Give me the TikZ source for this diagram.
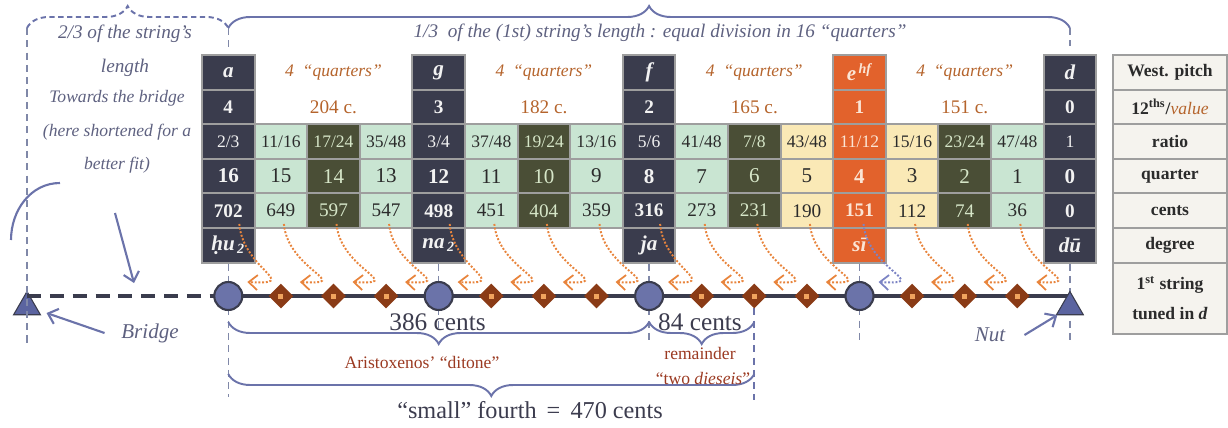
\documentclass[tikz,border=0pt,11pt]{standalone}
\usepackage{fontspec}
\setmainfont{Liberation Serif}
\usepackage{xcolor}
\usetikzlibrary{arrows.meta,shapes.geometric,positioning,calc,decorations.pathreplacing}

\definecolor{cnavy}{HTML}{3A3C4D}
\definecolor{cgreen}{HTML}{C9E5D2}
\definecolor{colive}{HTML}{4A4E36}
\definecolor{cyellow}{HTML}{FAE9B6}
\definecolor{corange}{HTML}{E2622C}
\definecolor{cgrid}{HTML}{9E9E9E}
\definecolor{ctxtlight}{HTML}{F2F2F2}
\definecolor{ctxtolive}{HTML}{D6E6C8}
\definecolor{ctxtdark}{HTML}{2B2B2B}
\definecolor{ctxtorange}{HTML}{FBE5D5}
\definecolor{cbrown}{HTML}{B5642C}
\definecolor{cslate}{HTML}{5E6180}
\definecolor{cline}{HTML}{6B73AA}
\definecolor{cguide}{HTML}{8088A8}
\definecolor{cdot}{HTML}{E8843C}
\definecolor{cblue}{HTML}{7C84C4}
\definecolor{cstring}{HTML}{3A3C4D}
\definecolor{cknot}{HTML}{6B73A9}
\definecolor{cfret}{HTML}{8A3B16}
\definecolor{cfretin}{HTML}{F0A35E}
\definecolor{crest}{HTML}{5B64A0}
\definecolor{cred}{HTML}{9B3A22}
\definecolor{ctxtcent}{HTML}{3C3C4E}
\definecolor{clegfill}{HTML}{F5F3EE}

\begin{document}
\begin{tikzpicture}[x=0.02cm,y=-0.02cm,
    cell/.style={draw=cgrid,line width=1.1pt,minimum width=1.052cm,
      minimum height=0.692cm,inner sep=0pt},
    legcell/.style={cell,fill=clegfill,minimum width=2.28cm,text=ctxtdark,font=\small\bfseries},
    note/.style={text=cslate,font=\itshape},
    guide/.style={draw=cguide,line width=0.9pt,dash pattern=on 4pt off 3pt},
    brc/.style={draw=cline,line width=1.1pt,decorate,decoration={brace,amplitude=0.44cm}},
    brcdown/.style={draw=cline,line width=1.1pt,decorate,decoration={brace,mirror,amplitude=0.44cm}},
    pointer/.style={draw=cline,line width=1.2pt,-{Straight Barb[length=5pt,width=9pt]}},
    qarrow/.style={line width=1.1pt,densely dotted,-{Straight Barb[length=5pt,width=8.5pt,line width=1pt]}},
    knot/.style={circle,fill=cknot,draw=cstring,line width=1.2pt,minimum size=0.56cm,inner sep=0pt},
    fret/.style={diamond,fill=cfret,inner sep=0pt,minimum size=0.5cm,
      path picture={\fill[cfretin] (path picture bounding box.center) +(-2.5,-2.5) rectangle +(2.5,2.5);}},
    rest/.style={regular polygon,regular polygon sides=3,fill=crest,draw=cstring,line width=0.6pt,
      minimum size=0.62cm,inner sep=0pt},
    string/.style={draw=cstring,line width=2.2pt}]
  \useasboundingbox (0,0) rectangle (1228,427);

  % degrees of the scale
  \foreach \k/\pit/\tw/\rat/\qu/\ce/\dg/\fc/\tc in {
      0/a/4/{2/3}/16/702/{\d{h}u\textsubscript{\,2}}/cnavy/ctxtlight,
      4/g/3/{3/4}/12/498/{na\textsubscript{\,2}}/cnavy/ctxtlight,
      8/f/2/{5/6}/8/316/ja/cnavy/ctxtlight,
      12/{e\textsuperscript{\,hf}}/1/{11/12}/4/151/sī/corange/ctxtorange,
      16/d/0/1/0/0/dū/cnavy/ctxtlight}{
    \pgfmathsetmacro\cx{228.3+52.6*\k}
    \node[cell,fill=\fc,text=\tc,font=\large\bfseries\itshape] (pitch\k) at (\cx,72.3) {\pit};
    \node[cell,fill=\fc,text=\tc,font=\bfseries] (twelfth\k) at (\cx,106.9) {\tw};
    \node[cell,fill=\fc,text=\tc,font=\small] (ratio\k) at (\cx,141.5) {\rat};
    \node[cell,fill=\fc,text=\tc,font=\large\bfseries] (quarter\k) at (\cx,176.1) {\qu};
    \node[cell,fill=\fc,text=\tc,font=\bfseries] (cents\k) at (\cx,210.7) {\ce};
    \node[cell,fill=\fc,text=\tc,font=\large\bfseries\itshape] (degree\k) at (\cx,245.3) {\dg};
  }

  % quarters in between
  \foreach \k/\num/\den/\qu/\ce/\fc/\tc in {
      1/11/16/15/649/cgreen/ctxtdark, 2/17/24/14/597/colive/ctxtolive, 3/35/48/13/547/cgreen/ctxtdark,
      5/37/48/11/451/cgreen/ctxtdark, 6/19/24/10/404/colive/ctxtolive, 7/13/16/9/359/cgreen/ctxtdark,
      9/41/48/7/273/cgreen/ctxtdark, 10/7/8/6/231/colive/ctxtolive, 11/43/48/5/190/cyellow/ctxtdark,
      13/15/16/3/112/cyellow/ctxtdark, 14/23/24/2/74/colive/ctxtolive, 15/47/48/1/36/cgreen/ctxtdark}{
    \pgfmathsetmacro\cx{228.3+52.6*\k}
    \node[cell,fill=\fc,text=\tc,font=\small] (ratio\k) at (\cx,141.5) {\num/\den};
    \node[cell,fill=\fc,text=\tc,font=\large] (quarter\k) at (\cx,176.1) {\qu};
    \node[cell,fill=\fc,text=\tc] (cents\k) at (\cx,210.7) {\ce};
  }
  \foreach \k/\step in {2/204,6/182,10/165,14/151}{
    \pgfmathsetmacro\cx{228.3+52.6*\k}
    \node[text=cbrown,font=\small\itshape] (four\k) at (\cx,72.3) {4~~“quarters”};
    \node[text=cbrown] (size\k) at (\cx,106.9) {\step~c.};
  }

  % legend
  \foreach \lr/\lt in {0/West. pitch, 1/{12\textsuperscript{ths}/\textmd{\textit{\textcolor{cbrown}{value}}}},
      2/ratio, 3/quarter, 4/cents, 5/degree}
    \node[legcell] (legend\lr) at (1170,{72.3+34.6*\lr}) {\lt};
  \node[legcell,minimum height=1.42cm,align=center] (legend6) at (1170,298.1)
    {1\textsuperscript{st} string\\[5pt]tuned in \textit{d}};

  % the string
  \foreach \k in {0,...,16}{
    \pgfmathsetmacro\cx{228.3+52.6*\k}
    \coordinate (s\k) at (\cx,296);
  }
  \node[rest] (bridge) at (27,307) {};
  \draw[guide] (27,28) -- (27,345);
  \draw[guide] ($(s0)+(0,-268)$) -- ($(s0)+(0,-246)$);
  \draw[guide] ($(s16)+(0,-268)$) -- ($(s16)+(0,-250)$);
  \foreach \k in {0,4,8,12,16}
    \draw[guide] (degree\k.south) -- (s\k);
  \draw[guide] (s0) -- ++(0,101);
  \draw[guide] (s4) -- ++(0,34);
  \draw[guide] (s8) -- ++(0,49);
  \draw[guide] (s12) -- ++(0,49);
  \draw[guide] (s16) -- ++(0,49);
  \draw[guide,draw=cline,line width=1.1pt] (s10) -- ++(0,104);
  \draw[string,dash pattern=on 8pt off 5pt] (bridge.corner 1 |- s0) -- (s0);
  \draw[string] (s0) -- (s16);
  \node[rest] (nut) at ($(s16)+(0,11)$) {};
  \foreach \k in {0,4,8,12}
    \node[knot] (knot\k) at (s\k) {};
  \foreach \k in {1,2,3,5,6,7,9,10,11,13,14,15}
    \node[fret] (fret\k) at (s\k) {};

  % cents to frets
  \foreach \k in {0,...,15}{
    \pgfmathsetmacro\off{ifthenelse(mod(\k,4)==0,11,3)}
    \ifnum\k=12 \def\ac{cblue}\def\off{4}\else\def\ac{cdot}\fi
    \draw[qarrow,draw=\ac] ($(cents\k.south)+(\off,-5)$) .. controls +(4,46) and +(55,3) .. ($(s\k)+(19,-14)$);
  }

  % braces
  \draw[brc,dash pattern=on 3pt off 2pt] (27,28) -- ($(s0)+(0,-268)$);
  \draw[brc] ($(s0)+(0,-268)$) -- ($(s16)+(0,-268)$);
  \draw[brcdown] ($(s0)+(0,26)$) -- ($(s8)+(0,26)$);
  \draw[brcdown] ($(s8)+(0,26)$) -- ($(s10)+(0,26)$);
  \draw[brcdown] ($(s0)+(0,78)$) -- ($(s10)+(0,78)$);

  % notes
  \node[note] (twothirds) at (125,34) {2/3 of the string's};
  \node[note] (twothirdsb) at (125,68) {length};
  \node[note] (onethird) at (660,33) {1/3~ of the (1st) string's length : equal division in 16 “quarters”};
  \node[note,font=\small\itshape,align=center] (towards) at (117,132)
    {Towards the bridge\\[7pt](here shortened for a\\[7pt]better fit)};
  \draw[pointer] (115,213) -- (134,283);
  \draw[draw=cline,line width=1.2pt] (60,183) to[out=180,in=90] (11,240);
  \node[note,font=\large\itshape] (bridgelbl) at (150,333) {Bridge};
  \draw[pointer] ([xshift=-0.2cm]bridgelbl.west) -- ($(bridge.east)+(10,6)$);
  \node[note,font=\large\itshape] (nutlbl) at (990,335) {Nut};
  \draw[pointer] ([xshift=0.25cm]nutlbl.east) -- ($(nut.west)+(-3,8)$);

  \node[text=ctxtcent,font=\Large] (lbl386) at (437.5,322) {386 cents};
  \node[text=ctxtcent,font=\Large] (lbl84) at (700,322) {84 cents};
  \node[text=cred,font=\small] (ditone) at (422,362) {Aristoxenos’ “ditone”};
  \node[text=cred,font=\small] (remainder) at (700,353) {remainder};
  \node[text=cred,font=\small] (dieseis) at (703,378) {“two \textit{dieseis}”};
  \node[text=ctxtcent,font=\fontsize{13.8}{16}\selectfont] (fourth) at (530,410) {“small” fourth \,=\, 470 cents};
\end{tikzpicture}
\end{document}
